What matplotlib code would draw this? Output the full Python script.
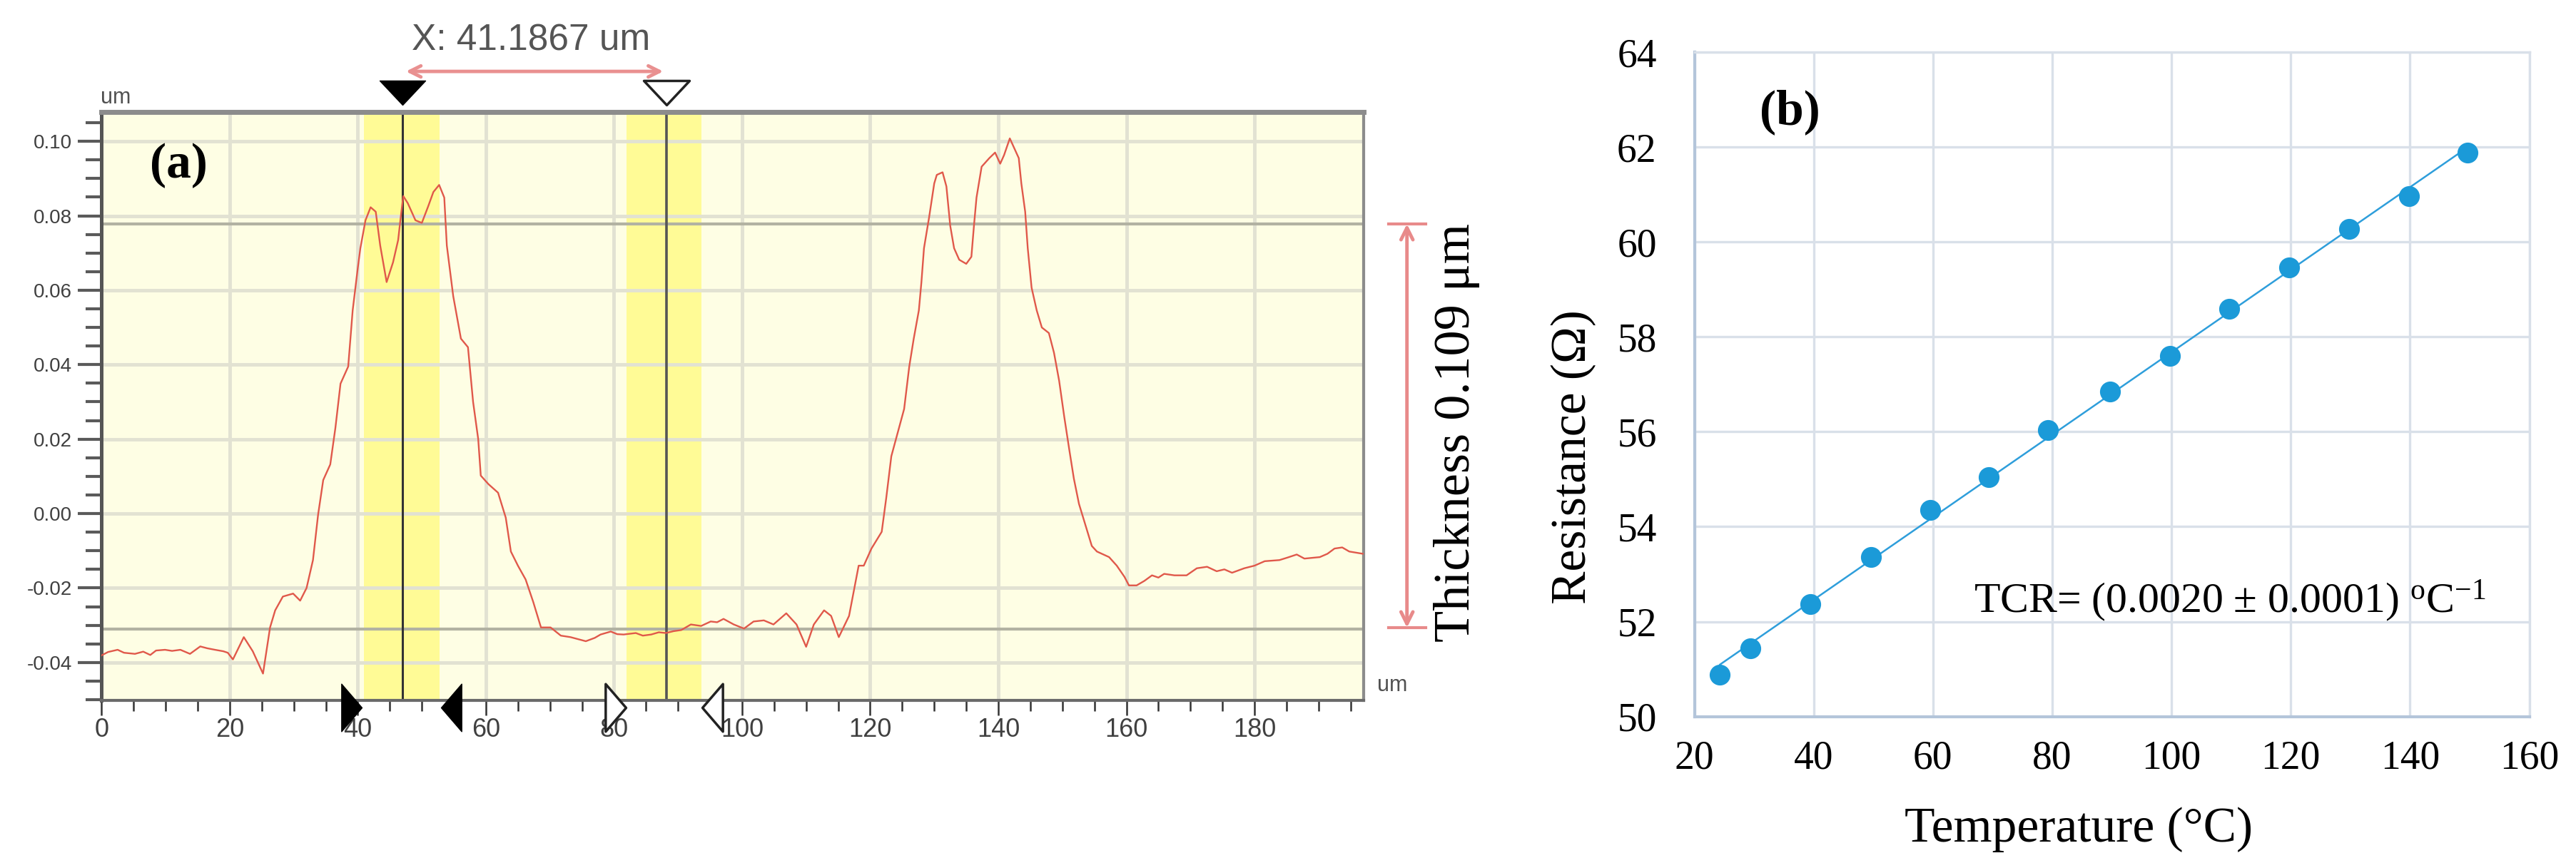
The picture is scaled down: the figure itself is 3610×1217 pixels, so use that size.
import numpy as np
import matplotlib
matplotlib.use("Agg")
import matplotlib.pyplot as plt
from matplotlib.path import Path
from matplotlib.lines import Line2D
from matplotlib.ticker import MultipleLocator, FormatStrFormatter

plt.rcParams['axes.unicode_minus'] = False
plt.rcParams['mathtext.fontset'] = 'custom'
plt.rcParams['mathtext.rm'] = 'Liberation Serif'
plt.rcParams['mathtext.it'] = 'Liberation Serif:italic'

# ---- data: (a) surface profile (um, um) ----
profile_x = [0, 1, 2.5, 3.5, 5.2, 6.5, 7.6, 8.5, 9.9, 11, 12.3, 13.8, 15.4, 16.5, 17.7, 19, 19.7,
             20.5, 22.2, 23.6, 25.2, 26.3, 27.1, 28.3, 29.9, 31.0, 32.0, 33.0, 33.8, 34.6, 35.7,
             36.5, 37.3, 38.5, 39.2, 40.0, 40.4, 41.2, 42.0, 42.8, 43.5, 44.5, 45.5, 46.3, 46.7,
             47.1, 47.8, 49.0, 50.0, 51.0, 51.8, 52.7, 53.5, 53.9, 54.9, 56.1, 57.2, 58.0, 58.8,
             59.2, 60.4, 61.9, 63.1, 63.9, 65.0, 66.2, 67.4, 68.6, 70.1, 71.7, 73.2, 74.5, 75.6,
             77.0, 77.9, 79.5, 80.5, 81.5, 83.4, 84.5, 85.8, 87.0, 88.1, 89.3, 90.5, 92.0, 93.6,
             95.1, 96.1, 97.1, 98.7, 100.3, 101.8, 103.4, 104.9, 106.9, 108.5, 110.0, 111.2, 112.8,
             113.9, 115.1, 116.7, 118.2, 119.0, 120.2, 121.8, 122.5, 123.3, 124.5, 125.3, 126.1,
             126.8, 127.6, 128.0, 128.4, 129.2, 130.0, 130.4, 131.3, 131.9, 132.5, 133.1, 133.9,
             135.0, 135.8, 136.2, 136.6, 137.4, 138.6, 139.5, 140.3, 140.9, 141.8, 142.6, 143.2,
             143.6, 144.2, 144.6, 145.2, 146.0, 146.8, 147.9, 148.7, 149.5, 150.3, 151.1, 151.8,
             152.6, 153.4, 154.6, 155.4, 157.3, 158.5, 159.7, 160.4, 161.6, 162.8, 164.0, 165.0,
             165.9, 167.5, 169.4, 171.0, 172.6, 174.1, 175.3, 176.5, 178.4, 180.0, 181.6, 183.9,
             185.2, 186.6, 187.8, 190.2, 191.4, 192.5, 193.7, 194.8, 196.9]
profile_y = [-0.0381, -0.0372, -0.0366, -0.0374, -0.0377, -0.0371, -0.0380, -0.0368, -0.0366,
             -0.0369, -0.0366, -0.0377, -0.0357, -0.0362, -0.0366, -0.0370, -0.0374,
             -0.0392, -0.0332, -0.0370, -0.0430, -0.0306, -0.0260, -0.0223, -0.0215, -0.0234,
             -0.0200, -0.0125, -0.0003, 0.0090, 0.0132,
             0.0230, 0.0349, 0.0395, 0.0546, 0.0660, 0.0713, 0.0788, 0.0823, 0.0811, 0.0720,
             0.0622, 0.0675, 0.0735, 0.0796, 0.0853, 0.0834, 0.0788, 0.0781, 0.0826, 0.0864,
             0.0883, 0.0849, 0.0720, 0.0584, 0.0470, 0.0447, 0.0300, 0.0200,
             0.0102, 0.0079, 0.0056, -0.0011, -0.0102, -0.0140, -0.0177, -0.0238, -0.0306,
             -0.0306, -0.0328, -0.0332, -0.0338, -0.0343, -0.0334, -0.0325, -0.0317, -0.0324,
             -0.0325, -0.0321, -0.0328, -0.0325, -0.0319, -0.0321, -0.0316, -0.0313, -0.0298,
             -0.0302, -0.0290, -0.0292, -0.0283, -0.0298, -0.0309, -0.0290, -0.0287, -0.0298,
             -0.0268, -0.0298, -0.0358, -0.0298, -0.0260, -0.0275, -0.0332, -0.0275, -0.0140,
             -0.0140, -0.0094, -0.0049, 0.0041, 0.0154, 0.0230, 0.0281, 0.0395,
             0.0470, 0.0546, 0.0622, 0.0713, 0.0796, 0.0887, 0.0910, 0.0917, 0.0879, 0.0773,
             0.0713, 0.0682, 0.0671, 0.0690, 0.0773, 0.0849, 0.0932, 0.0955, 0.0970, 0.0940,
             0.0963, 0.1008, 0.0978, 0.0955, 0.0887, 0.0811, 0.0713, 0.0607, 0.0546, 0.0500,
             0.0485, 0.0432, 0.0357, 0.0260, 0.0170, 0.0094,
             0.0026, -0.0019, -0.0087, -0.0102, -0.0117, -0.0140, -0.0170, -0.0193, -0.0193,
             -0.0181, -0.0166, -0.0172, -0.0162, -0.0166, -0.0166, -0.0147, -0.0143, -0.0155,
             -0.0150, -0.0159, -0.0147, -0.0140, -0.0128, -0.0125, -0.0118, -0.0110, -0.0121,
             -0.0117, -0.0108, -0.0094, -0.0091, -0.0102, -0.0108]

cursor_x = [47.0, 88.2]
band_ranges = [(41.0, 52.8), (82.0, 93.7)]
level_lines = [0.0779, -0.0310]

# ---- data: (b) resistance vs temperature ----
temperature = [24.3, 29.4, 39.4, 49.6, 59.5, 69.4, 79.3, 89.7, 99.7, 109.7, 119.7, 129.8, 139.8, 149.6]
resistance = [50.88, 51.44, 52.37, 53.36, 54.35, 55.05, 56.04, 56.85, 57.60, 58.59, 59.47, 60.28,
              60.96, 61.89]

W, H = 3610, 1217
fig = plt.figure(figsize=(W / 100, H / 100), dpi=100)


def fpos(x, y):
    return x / W, 1 - y / H


# ================= panel (a) =================
ax1 = fig.add_axes([142.4 / W, 1 - 982 / H, (1910.6 - 142.4) / W, (982 - 157) / H])
ax1.set_facecolor('#FEFEE4')
ax1.set_xlim(0, 197)
ax1.set_ylim(-0.0502, 0.1079)
for lo, hi in band_ranges:
    ax1.axvspan(lo, hi, color='#FFFB96', zorder=0.5, lw=0)
ax1.set_axisbelow('line')
ax1.grid(True, which='major', color='#E2E2D2', lw=3.5)
for lv in level_lines:
    ax1.axhline(lv, color='#B2B2A2', lw=3, zorder=1.6)
ax1.axvline(cursor_x[0], color='#333333', lw=2.2, zorder=1.7)
ax1.axvline(cursor_x[1], color='#555555', lw=2.6, zorder=1.7)
ax1.plot(profile_x, profile_y, color='#E0584A', lw=1.7, zorder=3)

ax1.xaxis.set_major_locator(MultipleLocator(20))
ax1.xaxis.set_minor_locator(MultipleLocator(5))
ax1.yaxis.set_major_locator(MultipleLocator(0.02))
ax1.yaxis.set_minor_locator(MultipleLocator(0.005))
ax1.yaxis.set_major_formatter(FormatStrFormatter('%.2f'))
ax1.tick_params(axis='y', which='major', length=24, width=3, color='#5A5A5A', pad=6,
                labelsize=20, labelcolor='#404040')
ax1.tick_params(axis='y', which='minor', length=16, width=3, color='#5A5A5A')
ax1.tick_params(axis='x', which='major', length=15, width=1.8, color='#333333', pad=2,
                labelsize=26, labelcolor='#404040')
ax1.tick_params(axis='x', which='minor', length=11, width=1.8, color='#333333')
for lab in ax1.get_xticklabels() + ax1.get_yticklabels():
    lab.set_family('Liberation Sans')
ax1.spines['left'].set_color('#555555')
ax1.spines['left'].set_linewidth(3.6)
ax1.spines['top'].set_color('#8C8C8C')
ax1.spines['top'].set_linewidth(5)
ax1.spines['right'].set_color('#8C8C8C')
ax1.spines['right'].set_linewidth(3)
ax1.spines['bottom'].set_color('#6A6A6A')
ax1.spines['bottom'].set_linewidth(3)

# cursor markers
down_tri = Path([(-0.94, 1), (0, 0), (0.94, 1), (-0.94, 1)],
                [Path.MOVETO, Path.LINETO, Path.LINETO, Path.CLOSEPOLY])
right_tri = Path([(-0.86, -1), (0, 0), (-0.86, 1), (-0.86, -1)],
                 [Path.MOVETO, Path.LINETO, Path.LINETO, Path.CLOSEPOLY])
left_tri = Path([(0.86, -1), (0, 0), (0.86, 1), (0.86, -1)],
                [Path.MOVETO, Path.LINETO, Path.LINETO, Path.CLOSEPOLY])
ax1.plot([cursor_x[0]], [0.1098], marker=down_tri, ms=49, mfc='black', mec='black', clip_on=False)
ax1.plot([cursor_x[1]], [0.1098], marker=down_tri, ms=49, mfc='white', mec='#222222', mew=2.5,
         clip_on=False)
ax1.plot([40.6], [-0.0521], marker=right_tri, ms=48, mfc='black', mec='black', clip_on=False, zorder=5)
ax1.plot([53.0], [-0.0521], marker=left_tri, ms=48, mfc='black', mec='black', clip_on=False, zorder=5)
ax1.plot([81.8], [-0.0521], marker=right_tri, ms=48, mfc='white', mec='#222222', mew=2.5,
         clip_on=False, zorder=5)
ax1.plot([93.8], [-0.0521], marker=left_tri, ms=48, mfc='white', mec='#222222', mew=2.5,
         clip_on=False, zorder=5)

# distance arrow and label
ax1.annotate('', xy=(cursor_x[1] - 0.2, 0.1188), xytext=(cursor_x[0] + 0.2, 0.1188),
             xycoords='data', annotation_clip=False,
             arrowprops=dict(arrowstyle='<->', color='#E99090', lw=3.5, mutation_scale=28))
fig.text(*fpos(744, 57), 'X: 41.1867 um', ha='center', va='center', fontsize=37,
         family='Liberation Sans', color='#555555')
fig.text(*fpos(141, 137), 'um', ha='left', va='center', fontsize=22,
         family='Liberation Sans', color='#505050')
fig.text(*fpos(1930, 961), 'um', ha='left', va='center', fontsize=22,
         family='Liberation Sans', color='#505050')
fig.text(*fpos(250, 232), '(a)', ha='center', va='center', fontsize=50,
         family='Liberation Serif', weight='bold')

# thickness arrow
ax1.annotate('', xy=fpos(1971.7, 880), xytext=fpos(1971.7, 314), xycoords='figure fraction',
             annotation_clip=False,
             arrowprops=dict(arrowstyle='<->', color='#E88A8A', lw=3.5,
                             mutation_scale=30, shrinkA=0, shrinkB=0))
for yb in (314, 880):
    x0, y0 = fpos(1946, yb)
    x1, _ = fpos(1998, yb)
    fig.add_artist(Line2D([x0, x1], [y0, y0], transform=fig.transFigure, color='#E88A8A', lw=3))
fig.text(*fpos(2042, 607), 'Thickness 0.109 μm', rotation=90, ha='center', va='center',
         fontsize=52, family='Liberation Serif')

# ================= panel (b) =================
ax2 = fig.add_axes([2374.5 / W, 1 - 1004.6 / H, (3544.5 - 2374.5) / W, (1004.6 - 73.2) / H])
ax2.set_xlim(20, 160)
ax2.set_ylim(50, 64)
ax2.set_xticks(np.arange(20, 161, 20))
ax2.set_yticks(np.arange(50, 65, 2))
ax2.grid(True, color='#D9E0E9', lw=2.4)
ax2.set_axisbelow(True)
for s in ['top', 'right']:
    ax2.spines[s].set_color('#D9E0E9')
    ax2.spines[s].set_linewidth(2.4)
for s in ['left', 'bottom']:
    ax2.spines[s].set_color('#B4C5DA')
    ax2.spines[s].set_linewidth(3)
ax2.tick_params(axis='both', length=0, labelsize=40)
ax2.tick_params(axis='x', pad=24)
ax2.tick_params(axis='y', pad=38)
for lab in ax2.get_xticklabels() + ax2.get_yticklabels():
    lab.set_family('Liberation Serif')

slope, intercept = np.polyfit(temperature, resistance, 1)
fit_x = np.array([temperature[0], temperature[-1]])
ax2.plot(fit_x, slope * fit_x + intercept, color='#2E9EDB', lw=1.8, zorder=2)
ax2.plot(temperature, resistance, 'o', ms=20, color='#1B9AD8', mec='#1B9AD8', zorder=3)

ax2.text(66.85, 52.2, r'TCR= (0.0020 $\pm$ 0.0001) $^{\rm o}$C$^{\rm {-}1}$', fontsize=43,
         family='Liberation Serif', va='baseline', ha='left')
fig.text(*fpos(2508, 157), '(b)', ha='center', va='center', fontsize=50,
         family='Liberation Serif', weight='bold')
fig.text(*fpos(2913, 1180), 'Temperature (°C)', ha='center', va='baseline', fontsize=50,
         family='Liberation Serif')
fig.text(*fpos(2205, 641), 'Resistance (Ω)', rotation=90, ha='center', va='center', fontsize=50,
         family='Liberation Serif')

fig.savefig('out.png', dpi=100)
plt.close(fig)
